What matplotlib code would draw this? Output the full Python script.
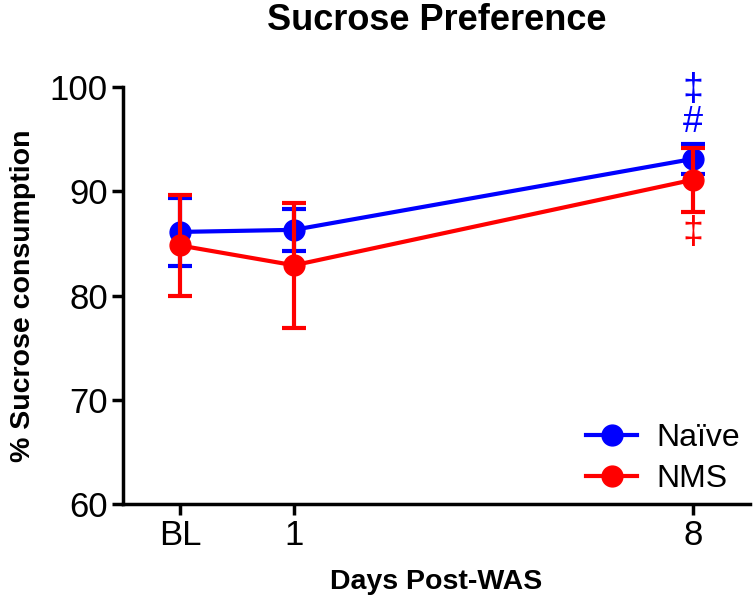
import matplotlib
matplotlib.use("Agg")
import matplotlib.pyplot as plt
from matplotlib.lines import Line2D

plt.rcParams['font.family'] = ['Liberation Sans', 'DejaVu Sans']

# Data
days = [-1, 1, 8]
day_labels = ["BL", "1", "8"]
naive_mean = [86.1, 86.3, 93.1]
naive_err = [3.3, 2.0, 1.45]
nms_mean = [84.8, 82.9, 91.1]
nms_err = [4.8, 6.0, 3.05]
series_names = ["Naïve", "NMS"]

fig = plt.figure(figsize=(7.55, 6.09), dpi=100)
ax = fig.add_axes([0.163, 0.1724, 0.830, 0.6847])

blue = "#0000FF"
red = "#FF0000"
common = dict(marker='o', markersize=15, linewidth=3, elinewidth=3,
              capsize=8.5, capthick=3, clip_on=False)
ax.errorbar(days, naive_mean, yerr=naive_err, color=blue, zorder=3, **common)
ax.errorbar(days, nms_mean, yerr=nms_err, color=red, zorder=4, **common)

ax.set_xlim(-2, 9)
ax.set_ylim(60, 100)
ax.set_xticks(days)
ax.set_xticklabels(day_labels)
ax.set_yticks([60, 70, 80, 90, 100])

for s in ['top', 'right']:
    ax.spines[s].set_visible(False)
for s in ['left', 'bottom']:
    ax.spines[s].set_linewidth(2.5)
ax.tick_params(axis='both', width=2.5, length=8, labelsize=25, pad=3)

ax.set_xlabel("Days Post-WAS", fontsize=20.5, fontweight='bold', labelpad=12)
ax.set_ylabel("% Sucrose consumption", fontsize=20.5, fontweight='bold', labelpad=10)
fig.text(0.578, 0.966, "Sucrose Preference", fontsize=26, fontweight='bold',
         ha='center', va='center')

# significance markers
ax.text(8, 99.7, "‡", color=blue, fontsize=27, ha='center', va='center')
ax.text(8, 96.55, "#", color=blue, fontsize=26, ha='center', va='center')
ax.text(8, 86.0, "‡", color=red, fontsize=27, ha='center', va='center')

handles = [Line2D([], [], color=blue, marker='o', markersize=15, linewidth=3),
           Line2D([], [], color=red, marker='o', markersize=15, linewidth=3)]
leg = ax.legend(handles, series_names, loc='lower right', fontsize=23, frameon=False,
                handlelength=1.6, handletextpad=0.6, borderaxespad=0.1,
                labelspacing=0.35, bbox_to_anchor=(1.01, -0.015))

fig.savefig("out.png", dpi=100)
